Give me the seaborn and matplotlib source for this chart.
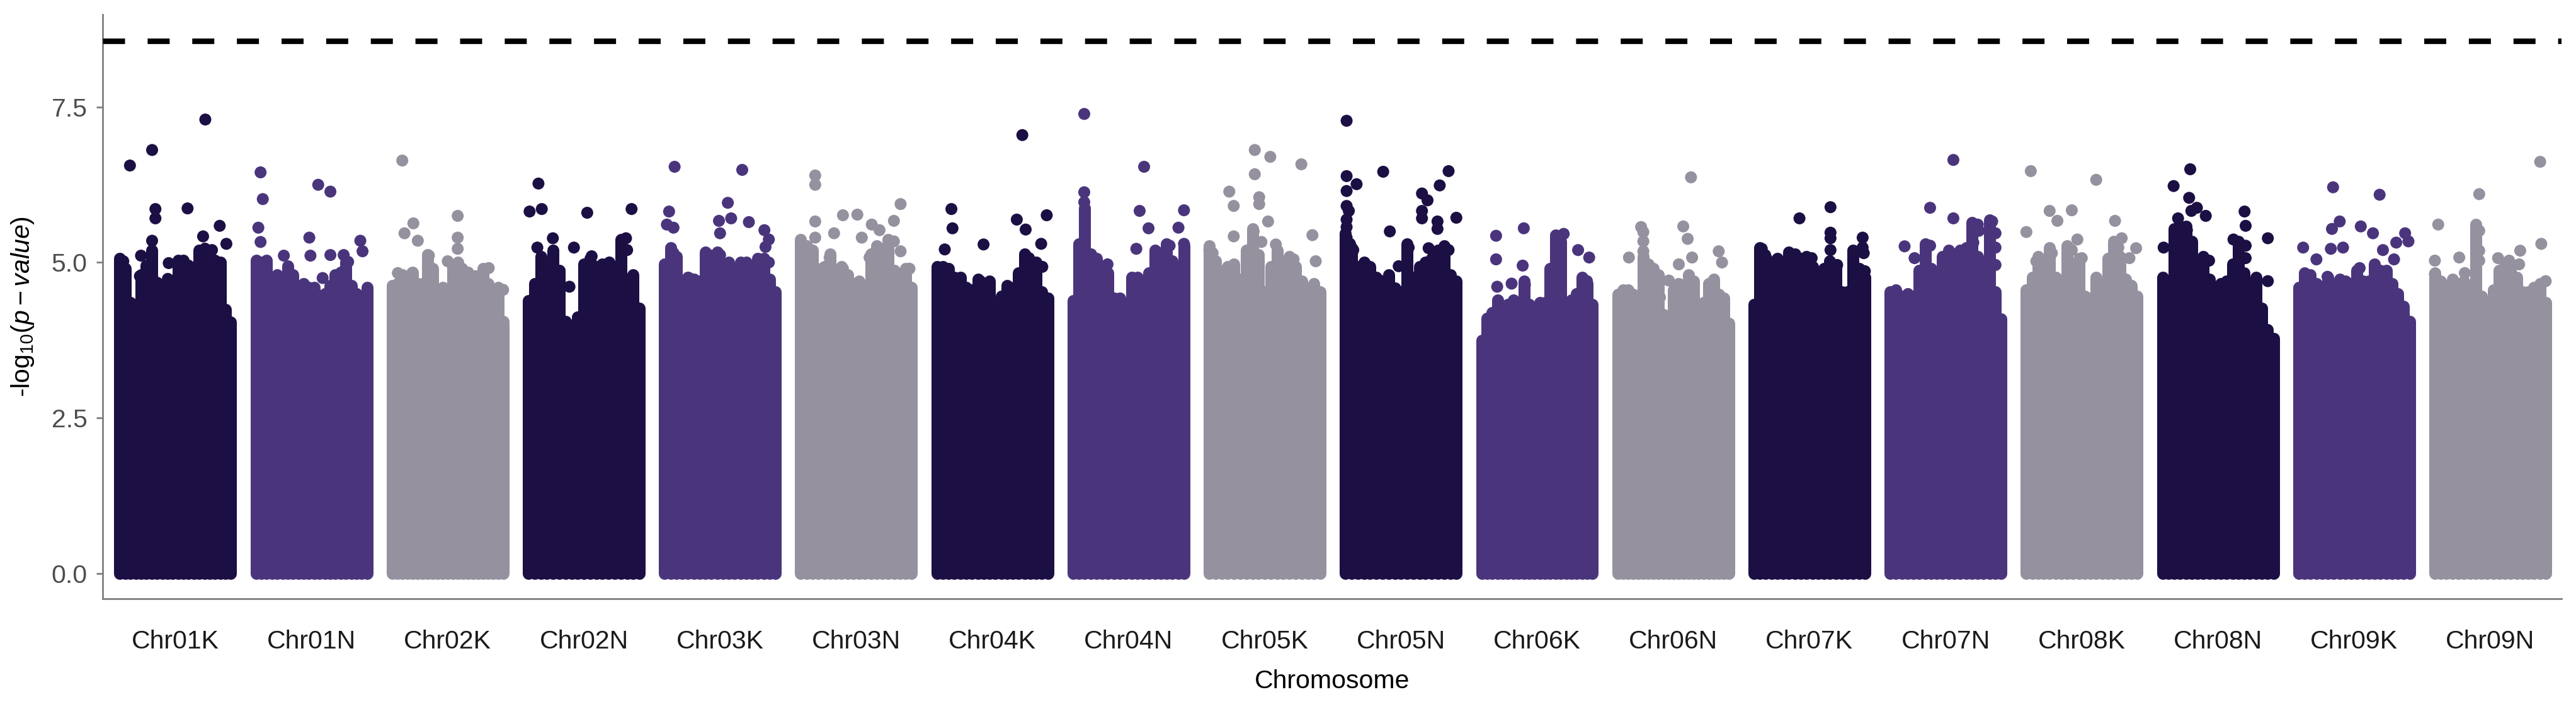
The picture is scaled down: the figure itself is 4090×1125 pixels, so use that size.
import numpy as np
import pandas as pd
import matplotlib
matplotlib.use("Agg")
import matplotlib.pyplot as plt
import seaborn as sns

# chromosome order on the x axis
chromosomes = ["Chr01K", "Chr01N", "Chr02K", "Chr02N", "Chr03K", "Chr03N",
               "Chr04K", "Chr04N", "Chr05K", "Chr05N", "Chr06K", "Chr06N",
               "Chr07K", "Chr07N", "Chr08K", "Chr08N", "Chr09K", "Chr09N"]
palette = ["#1C0F44", "#4A357D", "#96919F"]
threshold = 8.56

# top of the dense cloud of SNPs, sampled evenly along each chromosome
chr01K_mass = [5.07, 4.9, 4.36, 4.32, 4.8, 4.95, 5.2, 4.68, 3.98, 4.74, 4.71,
               5.04, 5.04, 4.95, 4.77, 5.2, 5.23, 4.95, 5.04, 5.0, 4.24, 4.04]
chr01N_mass = [5.04, 5.0, 5.04, 4.66, 4.8, 4.7, 4.94, 4.8, 4.26, 4.66, 4.6,
               4.6, 4.46, 4.5, 4.63, 4.8, 4.84, 5.0, 4.63, 4.5, 4.46, 4.6]
chr02K_mass = [4.63, 4.66, 4.8, 4.63, 4.84, 4.66, 4.66, 5.13, 4.9, 4.26, 4.6,
               4.56, 4.94, 5.0, 4.53, 4.84, 4.66, 4.6, 4.9, 4.66, 4.46, 4.6, 4.05]
chr02N_mass = [4.39, 4.66, 5.1, 4.9, 5.2, 4.87, 4.05, 3.99, 4.12, 4.97,
               5.07, 4.93, 4.97, 4.87, 4.93, 5.37, 4.73, 4.8, 4.26]
chr03K_mass = [4.97, 5.24, 5.1, 4.39, 4.76, 4.73, 4.7, 5.17, 4.9, 5.17,
               4.97, 5.0, 4.63, 5.0, 5.0, 4.63, 5.07, 5.07, 4.73, 4.53]
chr03N_mass = [5.37, 5.27, 5.2, 4.73, 4.93, 5.14, 4.83, 4.93, 4.8, 4.66,
               4.7, 4.46, 5.14, 5.27, 5.2, 5.37, 4.87, 4.8, 4.9, 4.6]
chr04K_mass = [4.93, 4.93, 4.9, 4.76, 4.76, 4.6, 4.56, 4.73, 4.53, 4.7,
               4.26, 4.46, 4.63, 4.39, 4.83, 5.14, 4.93, 5.0, 4.53, 4.43]
chr04N_mass = [4.39, 5.3, 5.88, 5.14, 5.07, 4.87, 4.83, 4.43, 4.43, 4.16,
               4.76, 4.76, 4.66, 4.83, 5.2, 4.83, 5.3, 5.03, 4.7, 5.27]
chr05K_mass = [5.27, 5.03, 4.86, 4.93, 4.97, 4.73, 5.2, 5.54, 5.13, 4.53,
               4.93, 5.2, 4.56, 5.1, 4.93, 4.7, 4.53, 4.66, 4.53]
chr05N_mass = [5.47, 5.24, 4.93, 5.0, 4.93, 4.76, 4.53, 4.8, 4.59, 4.53,
               5.3, 4.76, 4.93, 5.0, 5.07, 5.2, 5.27, 4.8, 4.7]
chr06K_mass = [3.75, 4.1, 4.19, 4.4, 4.19, 4.33, 4.4, 4.33, 4.7, 4.33, 4.12,
               4.36, 4.36, 4.9, 5.44, 5.34, 4.33, 4.4, 4.5, 4.76, 4.66, 4.33]
chr06N_mass = [4.49, 4.56, 4.56, 4.49, 4.36, 5.1, 4.97, 4.9, 4.8, 4.16, 4.12, 4.56,
               4.66, 4.63, 4.8, 4.7, 4.09, 4.36, 4.66, 4.73, 4.49, 4.43, 4.02]
chr07K_mass = [4.33, 5.24, 5.1, 4.97, 5.07, 4.26, 5.17, 5.14, 5.07, 5.1,
               4.93, 4.8, 4.9, 5.03, 4.93, 4.53, 4.53, 5.2, 4.9, 4.76]
chr07N_mass = [4.53, 4.56, 4.46, 4.5, 4.46, 4.87, 5.3, 4.9, 4.53, 5.1,
               5.2, 5.14, 5.2, 5.24, 5.64, 5.1, 5.0, 5.68, 4.53, 4.09]
chr08K_mass = [4.56, 4.76, 5.1, 4.87, 5.24, 4.76, 4.5, 5.27, 4.8, 5.07,
               4.46, 4.43, 4.76, 4.63, 5.07, 5.34, 5.1, 4.73, 4.63, 4.46]
chr08N_mass = [4.76, 4.46, 5.54, 5.58, 5.58, 5.34, 4.33, 5.1, 4.73, 4.46,
               4.66, 4.7, 4.97, 5.34, 4.83, 4.6, 4.76, 4.26, 3.92, 3.78]
chr09K_mass = [4.6, 4.83, 4.8, 4.66, 4.46, 4.76, 4.43, 4.73, 4.7, 4.66,
               4.87, 4.7, 4.7, 4.97, 4.87, 4.87, 4.66, 4.5, 4.29, 4.05]
chr09N_mass = [4.83, 4.7, 4.46, 4.73, 4.66, 4.7, 4.46, 5.61, 4.46, 4.26,
               4.56, 4.87, 4.97, 4.93, 4.76, 4.53, 4.53, 4.6, 4.66, 4.36]

# single SNPs above the cloud: (relative position on chromosome, -log10 p)
chr01K_peaks = [(.77, 7.30), (.29, 6.81), (.09, 6.56), (.32, 5.86), (.32, 5.71), (.61, 5.87), (.90, 5.59),
                (.75, 5.42), (.96, 5.30), (.29, 5.35), (.19, 5.11), (.44, 4.99), (.03, 5.02), (.75, 5.17),
                (.83, 5.20), (.29, 4.91), (.18, 4.78), (.50, 4.66), (.74, 4.42)]
chr01N_peaks = [(.04, 6.45), (.06, 6.02), (.56, 6.25), (.67, 6.14), (.02, 5.56), (.04, 5.33), (.48, 5.40),
                (.94, 5.35), (.96, 5.18), (.25, 5.11), (.49, 5.11), (.67, 5.12), (.79, 5.12), (.83, 5.01),
                (.03, 5.00), (.60, 4.75)]
chr02K_peaks = [(.09, 6.64), (.19, 5.63), (.59, 5.75), (.11, 5.47), (.23, 5.35), (.59, 5.40), (.59, 5.22),
                (.33, 5.11), (.50, 5.02), (.87, 4.91), (.63, 4.90), (.05, 4.83), (.18, 4.83), (.75, 4.78),
                (1.0, 4.56)]
chr02N_peaks = [(.09, 6.27), (.01, 5.82), (.12, 5.86), (.53, 5.80), (.93, 5.86), (.22, 5.39), (.08, 5.24),
                (.88, 5.39), (.89, 5.20), (.41, 5.24), (.57, 5.10), (.73, 5.00), (.28, 4.86), (.37, 4.61)]
chr03K_peaks = [(.09, 6.54), (.70, 6.49), (.57, 5.96), (.04, 5.82), (.49, 5.67), (.60, 5.71), (.76, 5.65),
                (.02, 5.61), (.08, 5.56), (.90, 5.52), (.50, 5.47), (.94, 5.37), (.91, 5.25), (.08, 5.15),
                (.40, 5.12), (.50, 5.12), (.94, 5.00), (.60, 4.93), (.70, 4.93), (.80, 4.93), (.02, 4.90),
                (.22, 4.75)]
chr03N_peaks = [(.13, 6.40), (.13, 6.25), (.90, 5.94), (.38, 5.76), (.51, 5.77), (.13, 5.66), (.84, 5.67),
                (.64, 5.61), (.71, 5.52), (.30, 5.47), (.13, 5.40), (.55, 5.40), (0.0, 5.32), (.08, 5.20),
                (.84, 5.34), (.90, 5.18), (.71, 5.22), (.26, 5.08), (.62, 5.08), (.19, 4.90), (.38, 4.90),
                (.98, 4.90)]
chr04K_peaks = [(.77, 7.05), (.13, 5.86), (.14, 5.55), (.72, 5.69), (.80, 5.53), (.99, 5.76), (.07, 5.21),
                (.42, 5.29), (.94, 5.30), (.83, 5.07), (.95, 4.93), (.75, 4.77), (.67, 4.59), (.39, 4.70)]
chr04N_peaks = [(.10, 7.39), (.64, 6.54), (.10, 6.13), (.10, 5.97), (.60, 5.83), (1.0, 5.84), (.68, 5.55),
                (.95, 5.56), (1.0, 5.30), (.57, 5.22), (.87, 5.27), (.80, 5.15), (.31, 4.97), (.90, 4.97),
                (1.0, 4.93), (.74, 4.85), (.08, 5.10)]
chr05K_peaks = [(.41, 6.81), (.55, 6.70), (.83, 6.58), (.41, 6.42), (.18, 6.14), (.45, 6.05), (.45, 5.94),
                (.22, 5.91), (.53, 5.66), (.40, 5.50), (.22, 5.42), (.93, 5.44), (.47, 5.33), (.60, 5.29),
                (0.0, 5.20), (.03, 5.15), (.36, 5.15), (.76, 5.05), (.96, 5.02), (.57, 4.86)]
chr05N_peaks = [(.01, 7.28), (.34, 6.46), (.93, 6.47), (.01, 6.39), (.10, 6.26), (.01, 6.15), (.85, 6.24),
                (.69, 6.11), (.74, 6.00), (.01, 5.91), (.03, 5.83), (.69, 5.83), (.69, 5.71), (.01, 5.69),
                (.01, 5.57), (.83, 5.66), (.83, 5.54), (1.0, 5.72), (.40, 5.50), (.01, 5.40), (.04, 5.30),
                (.07, 5.20), (.57, 5.24), (.75, 5.23), (.93, 5.20), (.18, 4.97), (.22, 4.85), (.48, 4.94),
                (.33, 4.70)]
chr06K_peaks = [(.38, 5.55), (.13, 5.43), (.74, 5.46), (.70, 5.34), (.87, 5.20), (.97, 5.08), (.13, 5.05),
                (.37, 4.95), (.27, 4.66), (.39, 4.64), (.14, 4.61), (.65, 4.86), (.95, 4.70)]
chr06N_peaks = [(.66, 6.37), (.21, 5.57), (.23, 5.49), (.59, 5.58), (.23, 5.34), (.63, 5.38), (.23, 5.18),
                (.91, 5.18), (.94, 5.00), (.67, 5.08), (.10, 5.08), (.55, 4.97), (.37, 4.78), (.46, 4.71),
                (.25, 4.93), (.38, 4.44)]
chr07K_peaks = [(.69, 5.89), (.41, 5.71), (.69, 5.48), (.69, 5.39), (.98, 5.40), (.98, 5.24), (.99, 5.15),
                (.69, 5.20), (.07, 5.22), (.10, 5.12), (.20, 5.03), (.37, 5.12), (.52, 5.07), (.75, 4.96),
                (.12, 4.80), (.07, 4.70), (1.0, 4.86)]
chr07N_peaks = [(.57, 6.65), (.36, 5.88), (.57, 5.71), (.79, 5.61), (.92, 5.66), (.80, 5.51), (.95, 5.47),
                (.13, 5.26), (.36, 5.27), (.75, 5.32), (.95, 5.24), (.22, 5.07), (.52, 5.10), (.62, 5.13),
                (.95, 4.96)]
chr08K_peaks = [(.04, 6.47), (.63, 6.33), (.21, 5.83), (.41, 5.84), (.28, 5.67), (0.0, 5.49), (.80, 5.67),
                (.46, 5.37), (.86, 5.39), (.99, 5.23), (.23, 5.15), (.41, 5.20), (.83, 5.24), (.09, 5.02),
                (.50, 5.07), (.37, 4.95), (.16, 4.86), (.93, 5.07)]
chr08N_peaks = [(.25, 6.50), (.10, 6.23), (.24, 6.04), (.31, 5.88), (.39, 5.75), (.26, 5.83), (.74, 5.82),
                (.14, 5.71), (.75, 5.59), (.22, 5.52), (.95, 5.39), (.64, 5.37), (.14, 5.47), (.14, 5.32),
                (.01, 5.24), (.25, 5.27), (.75, 5.27), (.75, 5.07), (.42, 5.03), (.95, 4.70)]
chr09K_peaks = [(.31, 6.21), (.73, 6.09), (.37, 5.66), (.30, 5.54), (.56, 5.58), (.67, 5.47), (.96, 5.47),
                (.99, 5.34), (.88, 5.32), (.04, 5.24), (.29, 5.22), (.40, 5.24), (.76, 5.20), (.16, 5.05),
                (.86, 5.05), (.55, 4.91), (.26, 4.77), (.08, 4.73)]
chr09N_peaks = [(.95, 6.62), (.40, 6.10), (.03, 5.61), (.40, 5.51), (.96, 5.30), (.40, 5.19), (.40, 5.03),
                (.22, 5.08), (0.0, 5.03), (.77, 5.19), (.57, 5.07), (.67, 5.03), (.76, 4.97), (0.0, 4.81),
                (.27, 4.83), (1.0, 4.70)]

mass_lists = [chr01K_mass, chr01N_mass, chr02K_mass, chr02N_mass, chr03K_mass, chr03N_mass,
              chr04K_mass, chr04N_mass, chr05K_mass, chr05N_mass, chr06K_mass, chr06N_mass,
              chr07K_mass, chr07N_mass, chr08K_mass, chr08N_mass, chr09K_mass, chr09N_mass]
peak_lists = [chr01K_peaks, chr01N_peaks, chr02K_peaks, chr02N_peaks, chr03K_peaks, chr03N_peaks,
              chr04K_peaks, chr04N_peaks, chr05K_peaks, chr05N_peaks, chr06K_peaks, chr06N_peaks,
              chr07K_peaks, chr07N_peaks, chr08K_peaks, chr08N_peaks, chr09K_peaks, chr09N_peaks]

SPAN = 0.814       # width of one chromosome block, in block units
DOT_PT = 13.7      # point diameter in points
color_map = {c: palette[i % 3] for i, c in enumerate(chromosomes)}

# long table of the single points
rows = []
for i, (name, peaks) in enumerate(zip(chromosomes, peak_lists)):
    for pos, val in peaks:
        rows.append({"chrom": name, "pos": i + pos * SPAN, "logp": val})
peaks_df = pd.DataFrame(rows)

sns.set_theme(style="ticks")
plt.rcParams["font.family"] = ["Liberation Sans", "DejaVu Sans"]
plt.rcParams["mathtext.fontset"] = "custom"
plt.rcParams["mathtext.rm"] = "Liberation Sans"
plt.rcParams["mathtext.it"] = "Liberation Sans:italic"

fig = plt.figure(figsize=(40.9, 11.25), dpi=100)
ax = fig.add_axes([163 / 4090, 1 - 950 / 1125, (4067 - 163) / 4090, (950 - 23) / 1125])

# dense part of each chromosome: overlapping round-capped columns of points
for i, mass in enumerate(mass_lists):
    xs = i + np.linspace(0, 1, len(mass)) * SPAN
    lc = ax.vlines(xs, 0, mass, colors=palette[i % 3], linewidth=DOT_PT)
    lc.set_capstyle("round")

sns.scatterplot(data=peaks_df, x="pos", y="logp", hue="chrom", palette=color_map,
                s=DOT_PT ** 2, linewidth=0, legend=False, ax=ax, zorder=3)

ax.axhline(threshold, color="black", linewidth=6.3, linestyle=(0, (4, 4.1)), zorder=4)

ax.set_xlim(-0.127, 17.93)
ax.set_ylim(-0.41, 8.99)
ax.set_xticks([i + SPAN / 2 for i in range(len(chromosomes))])
ax.set_xticklabels(chromosomes)
ax.set_yticks([0, 2.5, 5.0, 7.5])
ax.set_yticklabels(["0.0", "2.5", "5.0", "7.5"])

sns.despine(ax=ax)
for side in ["left", "bottom"]:
    ax.spines[side].set_color("#7F7F7F")
    ax.spines[side].set_linewidth(2.0)
ax.tick_params(axis="x", length=0, pad=35, labelsize=29.5, labelcolor="#1A1A1A")
ax.tick_params(axis="y", length=7.5, width=2.0, color="#7F7F7F", pad=10,
               labelsize=29.5, labelcolor="#4D4D4D")

ax.set_xlabel("Chromosome", fontsize=29.5, color="black", labelpad=18)
ax.set_ylabel(r"-log$_{10}$($p-value$)", fontsize=29.5, color="black", labelpad=18)

fig.savefig("out.png", dpi=100)
